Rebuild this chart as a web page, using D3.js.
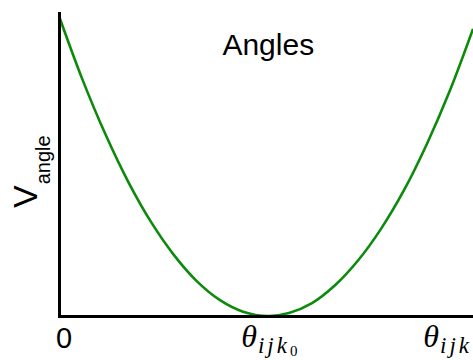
<!DOCTYPE html>
<html>
<head>
<meta charset="utf-8">
<script src="https://cdn.jsdelivr.net/npm/d3@7"></script>
<style>
  html, body { margin: 0; padding: 0; background: #fff; }
  svg { display: block; }
</style>
</head>
<body>
<svg id="chart" width="473" height="360"></svg>
<script>
// Bond-angle bending potential sampled over the angle range (degrees, arbitrary energy units)
const angles = [0, 10, 20, 30, 40, 50, 60, 70, 80, 91, 100, 110, 120, 130, 140, 150, 160, 170, 180];
const energies = [303, 240, 184.5, 136, 95, 61.5, 35, 16, 4.4, 0, 3, 13, 31, 56, 88, 127, 174, 228, 290];
const equilibriumAngle = 91;
const angleMax = 180;
const titleText = "Angles";

const svg = d3.select("#chart");
const W = 473, H = 360;
const margin = { left: 59, right: 0, top: 13, bottom: 44 };

const x = d3.scaleLinear().domain([0, angleMax]).range([margin.left, W - margin.right]);
const y = d3.scaleLinear().domain([0, 306]).range([H - margin.bottom, margin.top]);

const points = angles.map((a, i) => ({ a, v: energies[i] }));

// curve
const line = d3.line()
  .x(d => x(d.a))
  .y(d => y(d.v))
  .curve(d3.curveCatmullRom.alpha(0.5));

svg.append("path")
  .datum(points)
  .attr("d", line)
  .attr("fill", "none")
  .attr("stroke", "#0c8a0c")
  .attr("stroke-width", 2.6);

// axes (lines only, labels drawn below)
const xAxis = d3.axisBottom(x).tickValues([]).tickSizeOuter(0);
const yAxis = d3.axisLeft(y).tickValues([]).tickSizeOuter(0);

const gx = svg.append("g").attr("transform", `translate(0,${y(0)})`).call(xAxis);
const gy = svg.append("g").attr("transform", `translate(${x(0)},0)`).call(yAxis);
[gx, gy].forEach(g => g.select(".domain").attr("stroke", "#000").attr("stroke-width", 3).attr("stroke-linecap", "square"));

// title
svg.append("text")
  .attr("x", x(equilibriumAngle))
  .attr("y", 55)
  .attr("text-anchor", "middle")
  .attr("font-family", "Liberation Sans, Arial, sans-serif")
  .attr("font-size", 30)
  .attr("fill", "#000")
  .text(titleText);

// x labels
const labelY = 347;
svg.append("text")
  .attr("x", x(0) - 3)
  .attr("y", 348)
  .attr("font-family", "Liberation Sans, Arial, sans-serif")
  .attr("font-size", 29)
  .text("0");

const serif = "Liberation Serif, Times New Roman, serif";

const eqLabel = svg.append("text")
  .attr("x", x(equilibriumAngle) + 1)
  .attr("y", labelY)
  .attr("text-anchor", "middle")
  .attr("font-family", serif)
  .attr("font-style", "italic");
eqLabel.append("tspan").attr("font-size", 32).text("θ");
eqLabel.append("tspan").attr("font-size", 23).attr("letter-spacing", 3).attr("dy", 6).attr("dx", 1).text("ijk");
eqLabel.append("tspan").attr("font-size", 15).attr("font-style", "normal").attr("dy", 3).text("0");

const maxLabel = svg.append("text")
  .attr("x", x(angleMax) - 1)
  .attr("y", labelY)
  .attr("text-anchor", "end")
  .attr("font-family", serif)
  .attr("font-style", "italic");
maxLabel.append("tspan").attr("font-size", 32).text("θ");
maxLabel.append("tspan").attr("font-size", 23).attr("letter-spacing", 3).attr("dy", 6).attr("dx", 1).text("ijk");

// y label
const yLabel = svg.append("text")
  .attr("transform", "translate(37,208) rotate(-90)")
  .attr("font-family", "Liberation Sans, Arial, sans-serif")
  .attr("fill", "#000");
yLabel.append("tspan").attr("font-size", 34).text("V");
yLabel.append("tspan").attr("font-size", 20).attr("dy", 13).attr("dx", 1).text("angle");
</script>
</body>
</html>
